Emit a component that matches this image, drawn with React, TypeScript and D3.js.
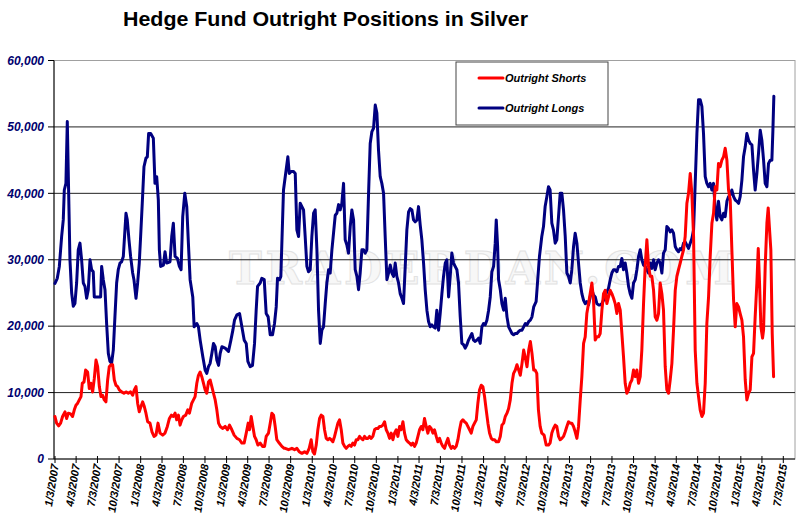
import { useEffect } from 'react';
import * as d3 from 'd3';

// decimal year, contracts
const outrightLongs: [number, number][] = [
  [2007.005, 26450], [2007.032, 27200], [2007.056, 29000], [2007.083, 33500], [2007.102, 36000],
  [2007.114, 40500], [2007.133, 41500], [2007.149, 50800], [2007.165, 40000], [2007.180, 30000],
  [2007.200, 25000], [2007.219, 23000], [2007.238, 23400], [2007.258, 26500], [2007.277, 31500],
  [2007.297, 32500], [2007.316, 30000], [2007.336, 26500], [2007.355, 26000], [2007.375, 24200],
  [2007.394, 25500], [2007.414, 30000], [2007.433, 28500], [2007.452, 28200], [2007.464, 24400],
  [2007.511, 24400], [2007.538, 24400], [2007.550, 29000], [2007.569, 27000], [2007.589, 25500],
  [2007.608, 20400], [2007.628, 15900], [2007.647, 14700], [2007.666, 14400], [2007.686, 16400],
  [2007.705, 21400], [2007.725, 26500], [2007.744, 28500], [2007.764, 29500], [2007.783, 29700],
  [2007.803, 30500], [2007.822, 34500], [2007.834, 37000], [2007.849, 36000], [2007.869, 33000],
  [2007.888, 30500], [2007.912, 28000], [2007.927, 27000], [2007.951, 24200], [2007.970, 26500],
  [2007.989, 29500], [2008.005, 33500], [2008.024, 38500], [2008.044, 44000], [2008.067, 45300],
  [2008.083, 45500], [2008.098, 49000], [2008.122, 49000], [2008.153, 48300], [2008.172, 41500],
  [2008.192, 42500], [2008.211, 39000], [2008.223, 31500], [2008.238, 29000], [2008.270, 29200],
  [2008.289, 31200], [2008.308, 29500], [2008.347, 29700], [2008.367, 33500], [2008.386, 35500],
  [2008.406, 30500], [2008.433, 30200], [2008.456, 29000], [2008.476, 28500], [2008.495, 36500],
  [2008.519, 40000], [2008.542, 38000], [2008.561, 32500], [2008.581, 27000], [2008.612, 24400],
  [2008.628, 19900], [2008.659, 20400], [2008.678, 19900], [2008.698, 17900], [2008.729, 15400],
  [2008.756, 13400], [2008.775, 12900], [2008.795, 13900], [2008.814, 14400], [2008.834, 15900],
  [2008.853, 17400], [2008.873, 16900], [2008.892, 14900], [2008.912, 14100], [2008.931, 15900],
  [2008.951, 16900], [2008.989, 16700], [2009.028, 16200], [2009.056, 17900], [2009.079, 19400],
  [2009.098, 20900], [2009.126, 21700], [2009.157, 21900], [2009.184, 19900], [2009.211, 17900],
  [2009.235, 17400], [2009.254, 14700], [2009.281, 13900], [2009.308, 14100], [2009.332, 17400],
  [2009.351, 22400], [2009.367, 26000], [2009.398, 26500], [2009.417, 27200], [2009.445, 27000],
  [2009.468, 21900], [2009.491, 21400], [2009.515, 18700], [2009.542, 18700], [2009.565, 20400],
  [2009.585, 22900], [2009.600, 27200], [2009.624, 27000], [2009.639, 27500], [2009.670, 40500],
  [2009.721, 45500], [2009.737, 43000], [2009.760, 43300], [2009.787, 43300], [2009.807, 43000],
  [2009.826, 34500], [2009.846, 33500], [2009.865, 38500], [2009.885, 38000], [2009.904, 37500],
  [2009.923, 33500], [2009.943, 29000], [2009.962, 28200], [2009.982, 28500], [2010.001, 33500],
  [2010.021, 37000], [2010.040, 37500], [2010.060, 31500], [2010.079, 22400], [2010.099, 17400],
  [2010.118, 19400], [2010.137, 19900], [2010.157, 23400], [2010.176, 26500], [2010.196, 28500],
  [2010.215, 28000], [2010.235, 31500], [2010.254, 34000], [2010.274, 36700], [2010.293, 37000],
  [2010.313, 38300], [2010.332, 37500], [2010.351, 38500], [2010.371, 41500], [2010.390, 33000],
  [2010.410, 32200], [2010.429, 31000], [2010.449, 35000], [2010.468, 37500], [2010.488, 36000],
  [2010.507, 28500], [2010.527, 27500], [2010.546, 25500], [2010.565, 28000], [2010.585, 31500],
  [2010.604, 31500], [2010.624, 31000], [2010.643, 31500], [2010.663, 40000], [2010.682, 47500],
  [2010.702, 49300], [2010.721, 49800], [2010.741, 53300], [2010.760, 52100], [2010.779, 46500],
  [2010.799, 42500], [2010.818, 41500], [2010.838, 40000], [2010.857, 33500], [2010.877, 27000],
  [2010.896, 28000], [2010.916, 29200], [2010.935, 28000], [2010.955, 27500], [2010.974, 29500],
  [2010.993, 27500], [2011.013, 26500], [2011.032, 24900], [2011.052, 24200], [2011.071, 23400],
  [2011.091, 29000], [2011.110, 34500], [2011.130, 37200], [2011.149, 37700], [2011.169, 37500],
  [2011.188, 36000], [2011.207, 35700], [2011.227, 36000], [2011.246, 38000], [2011.266, 35200],
  [2011.285, 33000], [2011.305, 29500], [2011.324, 25500], [2011.344, 22400], [2011.363, 20700],
  [2011.383, 19900], [2011.402, 20200], [2011.421, 19900], [2011.441, 19700], [2011.460, 22400],
  [2011.480, 19400], [2011.499, 21900], [2011.519, 24900], [2011.538, 27500], [2011.558, 29500],
  [2011.577, 30000], [2011.597, 24400], [2011.616, 27500], [2011.635, 31000], [2011.655, 29500],
  [2011.674, 29000], [2011.694, 28500], [2011.713, 26500], [2011.733, 21400], [2011.752, 17400],
  [2011.772, 17200], [2011.791, 16700], [2011.811, 17200], [2011.830, 17900], [2011.849, 18400],
  [2011.869, 18900], [2011.888, 17900], [2011.908, 17700], [2011.927, 17900], [2011.947, 18200],
  [2011.966, 17400], [2011.986, 19900], [2012.005, 20400], [2012.025, 20200], [2012.044, 20900],
  [2012.064, 22400], [2012.083, 24400], [2012.102, 28200], [2012.122, 29000], [2012.141, 32500],
  [2012.153, 36000], [2012.169, 32000], [2012.180, 27000], [2012.200, 25500], [2012.219, 23400],
  [2012.239, 22400], [2012.258, 24200], [2012.278, 21400], [2012.297, 19900], [2012.316, 19400],
  [2012.336, 18900], [2012.355, 18700], [2012.375, 18900], [2012.394, 18900], [2012.414, 19200],
  [2012.433, 19400], [2012.453, 19400], [2012.472, 19900], [2012.492, 20400], [2012.511, 20200],
  [2012.531, 20700], [2012.550, 20900], [2012.569, 21400], [2012.589, 22900], [2012.617, 23700],
  [2012.633, 26500], [2012.656, 30500], [2012.683, 33500], [2012.703, 35000], [2012.722, 38000],
  [2012.742, 39500], [2012.761, 41000], [2012.780, 40500], [2012.800, 35500], [2012.819, 34500],
  [2012.839, 32500], [2012.858, 33000], [2012.878, 36500], [2012.897, 40000], [2012.917, 40000],
  [2012.936, 37500], [2012.956, 33500], [2012.975, 28000], [2012.994, 27500], [2013.014, 26500],
  [2013.033, 28500], [2013.053, 32000], [2013.072, 34000], [2013.092, 32500], [2013.111, 29500],
  [2013.131, 26500], [2013.150, 24900], [2013.170, 23900], [2013.189, 23400], [2013.208, 23700],
  [2013.228, 23200], [2013.247, 24400], [2013.267, 25500], [2013.286, 24700], [2013.306, 24400],
  [2013.325, 23400], [2013.345, 23200], [2013.364, 23200], [2013.384, 23400], [2013.403, 23900],
  [2013.422, 24400], [2013.442, 25200], [2013.461, 25700], [2013.481, 27000], [2013.500, 28000],
  [2013.520, 28500], [2013.539, 28500], [2013.559, 28200], [2013.578, 29000], [2013.598, 29000],
  [2013.617, 30200], [2013.636, 28500], [2013.656, 29500], [2013.675, 28000], [2013.695, 26000],
  [2013.714, 24900], [2013.734, 24200], [2013.753, 26500], [2013.773, 27000], [2013.792, 28500],
  [2013.812, 30500], [2013.831, 31500], [2013.850, 30000], [2013.870, 29200], [2013.889, 29000],
  [2013.909, 28500], [2013.928, 28000], [2013.948, 29500], [2013.967, 28700], [2013.987, 30000],
  [2014.006, 28500], [2014.026, 29500], [2014.045, 30000], [2014.064, 29500], [2014.084, 28000],
  [2014.103, 31000], [2014.123, 31500], [2014.142, 35000], [2014.162, 34700], [2014.181, 34200],
  [2014.201, 34500], [2014.220, 34000], [2014.240, 32000], [2014.259, 31500], [2014.278, 31200],
  [2014.298, 31700], [2014.317, 31500], [2014.337, 32500], [2014.356, 32700], [2014.376, 32200],
  [2014.395, 31700], [2014.415, 32500], [2014.434, 33200], [2014.454, 34500], [2014.473, 41500],
  [2014.493, 49000], [2014.512, 54100], [2014.531, 54100], [2014.551, 53100], [2014.570, 49000],
  [2014.590, 42500], [2014.609, 41500], [2014.629, 41000], [2014.648, 41500], [2014.668, 40500],
  [2014.687, 41500], [2014.707, 37500], [2014.726, 36000], [2014.745, 38800], [2014.765, 36500],
  [2014.784, 36000], [2014.804, 37000], [2014.823, 36500], [2014.843, 38800], [2014.862, 39500],
  [2014.882, 39800], [2014.901, 40500], [2014.921, 39500], [2014.940, 39000], [2014.959, 38800],
  [2014.979, 38500], [2014.998, 39500], [2015.018, 42000], [2015.037, 45500], [2015.057, 47000],
  [2015.076, 49000], [2015.096, 48000], [2015.115, 47500], [2015.135, 47300], [2015.154, 43500],
  [2015.173, 40500], [2015.193, 43000], [2015.212, 46000], [2015.232, 49500], [2015.251, 48000],
  [2015.271, 45000], [2015.290, 41500], [2015.310, 41000], [2015.329, 44500], [2015.349, 45000],
  [2015.368, 45000], [2015.380, 49500], [2015.391, 54600],
];

const outrightShorts: [number, number][] = [
  [2007.005, 6400], [2007.024, 5400], [2007.048, 5000], [2007.071, 5400], [2007.094, 6400],
  [2007.122, 7100], [2007.141, 6100], [2007.161, 6900], [2007.188, 6800], [2007.211, 6400],
  [2007.231, 7400], [2007.250, 8100], [2007.270, 8400], [2007.289, 8900], [2007.309, 9400],
  [2007.324, 11400], [2007.344, 11600], [2007.363, 13400], [2007.386, 13100], [2007.406, 10600],
  [2007.425, 11400], [2007.445, 10100], [2007.464, 12100], [2007.484, 14900], [2007.503, 13900],
  [2007.523, 10900], [2007.542, 9400], [2007.561, 9600], [2007.581, 8900], [2007.600, 8600],
  [2007.620, 11900], [2007.639, 13900], [2007.659, 14200], [2007.678, 14200], [2007.698, 11900],
  [2007.717, 11100], [2007.737, 10900], [2007.756, 10400], [2007.783, 10100], [2007.810, 9900],
  [2007.834, 10100], [2007.861, 9900], [2007.888, 10100], [2007.912, 9600], [2007.931, 10400],
  [2007.951, 10900], [2007.970, 8400], [2007.989, 7100], [2008.009, 7900], [2008.028, 8600],
  [2008.048, 7900], [2008.067, 6900], [2008.087, 5600], [2008.114, 5400], [2008.137, 4100],
  [2008.161, 3400], [2008.184, 3600], [2008.207, 5400], [2008.231, 3900], [2008.262, 3600],
  [2008.289, 3900], [2008.316, 4900], [2008.340, 6100], [2008.363, 6600], [2008.386, 6400],
  [2008.406, 6900], [2008.425, 5900], [2008.445, 6600], [2008.464, 5100], [2008.484, 5900],
  [2008.503, 6400], [2008.530, 6600], [2008.554, 7400], [2008.573, 6900], [2008.600, 8400],
  [2008.620, 8900], [2008.639, 9400], [2008.659, 11400], [2008.678, 12600], [2008.698, 13100],
  [2008.717, 12400], [2008.737, 11400], [2008.756, 10400], [2008.775, 9900], [2008.795, 11600],
  [2008.814, 11900], [2008.834, 10900], [2008.853, 9900], [2008.873, 8900], [2008.892, 7400],
  [2008.912, 5400], [2008.931, 4900], [2008.962, 4600], [2008.989, 4900], [2009.017, 4400],
  [2009.040, 5100], [2009.067, 4400], [2009.094, 3600], [2009.126, 3100], [2009.157, 2900],
  [2009.184, 2400], [2009.211, 2400], [2009.235, 3900], [2009.258, 5400], [2009.273, 4400],
  [2009.293, 6400], [2009.312, 4900], [2009.332, 3400], [2009.351, 2900], [2009.371, 2100],
  [2009.398, 2400], [2009.425, 1900], [2009.449, 1900], [2009.468, 3400], [2009.495, 3900],
  [2009.515, 5400], [2009.534, 6900], [2009.554, 6600], [2009.573, 4900], [2009.592, 2900],
  [2009.620, 2400], [2009.651, 1900], [2009.678, 1600], [2009.690, 1600], [2009.729, 1400],
  [2009.768, 1600], [2009.799, 1400], [2009.826, 1600], [2009.853, 1100], [2009.885, 850],
  [2009.916, 1100], [2009.943, 850], [2009.970, 1600], [2009.993, 2900], [2010.013, 1100],
  [2010.032, 750], [2010.052, 2100], [2010.071, 4400], [2010.091, 6100], [2010.110, 6600],
  [2010.130, 6400], [2010.149, 4400], [2010.169, 3100], [2010.188, 2900], [2010.208, 3100],
  [2010.227, 2900], [2010.246, 2600], [2010.266, 3400], [2010.285, 4400], [2010.305, 5400],
  [2010.324, 5900], [2010.344, 4400], [2010.363, 2400], [2010.383, 1900], [2010.402, 1600],
  [2010.422, 1900], [2010.441, 2100], [2010.460, 1900], [2010.480, 2400], [2010.499, 2100],
  [2010.519, 2900], [2010.538, 2900], [2010.558, 3400], [2010.577, 3100], [2010.597, 2900],
  [2010.616, 3400], [2010.636, 3100], [2010.655, 3100], [2010.674, 3400], [2010.694, 3100],
  [2010.713, 3400], [2010.733, 4400], [2010.752, 4600], [2010.772, 4600], [2010.791, 4900],
  [2010.811, 4900], [2010.830, 5100], [2010.850, 5600], [2010.869, 4400], [2010.888, 3900],
  [2010.908, 3100], [2010.927, 3900], [2010.947, 2900], [2010.966, 3900], [2010.986, 4400],
  [2011.005, 3400], [2011.025, 4900], [2011.044, 4400], [2011.064, 5600], [2011.083, 3900],
  [2011.102, 2900], [2011.122, 2600], [2011.141, 2400], [2011.161, 2100], [2011.180, 2400],
  [2011.200, 1900], [2011.219, 2400], [2011.239, 3400], [2011.258, 4400], [2011.278, 4900],
  [2011.297, 4400], [2011.316, 6100], [2011.336, 4900], [2011.355, 3900], [2011.375, 4900],
  [2011.394, 4600], [2011.414, 3900], [2011.433, 4400], [2011.453, 3400], [2011.472, 2600],
  [2011.492, 3100], [2011.511, 2400], [2011.530, 1900], [2011.550, 1600], [2011.569, 2400],
  [2011.589, 3100], [2011.608, 2100], [2011.628, 1600], [2011.647, 1900], [2011.667, 1600],
  [2011.686, 1900], [2011.706, 2900], [2011.725, 4400], [2011.744, 5600], [2011.764, 5900],
  [2011.783, 5600], [2011.803, 5400], [2011.822, 4900], [2011.842, 4400], [2011.861, 3900],
  [2011.881, 4900], [2011.900, 5400], [2011.920, 5900], [2011.939, 8400], [2011.958, 10400],
  [2011.978, 11100], [2011.997, 10900], [2012.017, 9400], [2012.036, 7400], [2012.056, 5400],
  [2012.075, 3900], [2012.095, 3100], [2012.114, 2900], [2012.134, 2900], [2012.153, 2600],
  [2012.180, 2600], [2012.200, 3400], [2012.219, 5100], [2012.239, 5400], [2012.258, 6400],
  [2012.278, 6900], [2012.297, 7600], [2012.316, 8900], [2012.336, 11400], [2012.355, 12900],
  [2012.375, 13400], [2012.394, 14200], [2012.414, 13400], [2012.433, 12600], [2012.453, 14400],
  [2012.472, 16400], [2012.492, 15200], [2012.511, 13900], [2012.531, 16400], [2012.550, 17700],
  [2012.569, 15900], [2012.589, 13400], [2012.605, 13400], [2012.625, 12900], [2012.644, 7400],
  [2012.664, 4900], [2012.683, 3900], [2012.710, 3600], [2012.734, 2100], [2012.761, 2100],
  [2012.780, 2400], [2012.800, 3900], [2012.819, 4600], [2012.839, 5100], [2012.858, 4900],
  [2012.878, 3400], [2012.897, 2900], [2012.917, 3100], [2012.936, 3400], [2012.956, 4100],
  [2012.975, 4900], [2012.994, 5600], [2013.014, 5400], [2013.033, 5400], [2013.053, 4900],
  [2013.072, 4100], [2013.092, 3100], [2013.111, 4900], [2013.131, 8900], [2013.150, 12400],
  [2013.170, 17400], [2013.189, 18400], [2013.208, 21900], [2013.228, 23400], [2013.247, 24900],
  [2013.267, 26500], [2013.286, 23900], [2013.306, 17900], [2013.325, 18400], [2013.345, 18400],
  [2013.364, 18900], [2013.384, 22400], [2013.403, 24900], [2013.422, 25400], [2013.442, 23400],
  [2013.461, 24400], [2013.481, 25400], [2013.500, 24900], [2013.520, 24200], [2013.539, 23400],
  [2013.559, 21900], [2013.578, 23400], [2013.598, 22400], [2013.617, 18900], [2013.636, 15400],
  [2013.656, 11400], [2013.675, 9900], [2013.695, 10400], [2013.714, 11400], [2013.734, 11900],
  [2013.753, 13400], [2013.773, 12400], [2013.792, 13400], [2013.812, 11400], [2013.831, 12400],
  [2013.850, 16400], [2013.870, 23400], [2013.889, 29000], [2013.909, 33000], [2013.928, 29000],
  [2013.948, 27500], [2013.967, 27500], [2013.987, 25400], [2014.006, 21400], [2014.026, 20900],
  [2014.045, 21900], [2014.064, 26500], [2014.084, 24900], [2014.103, 22400], [2014.123, 13900],
  [2014.142, 10400], [2014.162, 9900], [2014.181, 11900], [2014.201, 14400], [2014.220, 19400],
  [2014.240, 25400], [2014.259, 27500], [2014.278, 28500], [2014.298, 29500], [2014.317, 30500],
  [2014.337, 31500], [2014.356, 33500], [2014.376, 38500], [2014.395, 40000], [2014.415, 43000],
  [2014.434, 40000], [2014.454, 33500], [2014.473, 16400], [2014.493, 11400], [2014.512, 9400],
  [2014.531, 7400], [2014.551, 6400], [2014.570, 6900], [2014.590, 11400], [2014.609, 20400],
  [2014.629, 24400], [2014.648, 30500], [2014.668, 35500], [2014.687, 37000], [2014.707, 41000],
  [2014.726, 40500], [2014.745, 44500], [2014.765, 44000], [2014.784, 45000], [2014.804, 45500],
  [2014.823, 46800], [2014.843, 45000], [2014.862, 40500], [2014.882, 39000], [2014.901, 31500],
  [2014.921, 23900], [2014.940, 19900], [2014.959, 23400], [2014.979, 22900], [2014.998, 21900],
  [2015.018, 20900], [2015.037, 18400], [2015.057, 11900], [2015.076, 8900], [2015.096, 9900],
  [2015.115, 10400], [2015.135, 15400], [2015.154, 15900], [2015.173, 21400], [2015.193, 26500],
  [2015.209, 31700], [2015.224, 26500], [2015.240, 19900], [2015.259, 18200], [2015.271, 19400],
  [2015.290, 29000], [2015.310, 35500], [2015.325, 37800], [2015.341, 34500], [2015.356, 31500],
  [2015.372, 18900], [2015.388, 12400],
];

const yTicks = [0, 10000, 20000, 30000, 40000, 50000, 60000];

const xTickLabels = [
  '1/3/2007', '4/3/2007', '7/3/2007', '10/3/2007', '1/3/2008', '4/3/2008', '7/3/2008', '10/3/2008',
  '1/3/2009', '4/3/2009', '7/3/2009', '10/3/2009', '1/3/2010', '4/3/2010', '7/3/2010', '10/3/2010',
  '1/3/2011', '4/3/2011', '7/3/2011', '10/3/2011', '1/3/2012', '4/3/2012', '7/3/2012', '10/3/2012',
  '1/3/2013', '4/3/2013', '7/3/2013', '10/3/2013', '1/3/2014', '4/3/2014', '7/3/2014', '10/3/2014',
  '1/3/2015', '4/3/2015', '7/3/2015',
];

const legendItems = [
  { label: 'Outright Shorts', color: '#ff0000' },
  { label: 'Outright Longs', color: '#000080' },
];

const W = 800;
const H = 515;
const plot = { left: 54, right: 795, top: 60.5, bottom: 459 };
const FONT = 'Arial, "Liberation Sans", sans-serif';

const parseLabel = d3.timeParse('%m/%d/%Y');

const fromYear = (t: number) => {
  const y = Math.floor(t);
  const a = new Date(y, 0, 1).getTime();
  const b = new Date(y + 1, 0, 1).getTime();
  return new Date(a + (t - y) * (b - a));
};

const x = d3.scaleTime()
  .domain([new Date(2007, 0, 3), new Date(2015, 6, 3)])
  .range([55, 783.3]);

const y = d3.scaleLinear()
  .domain([0, 60000])
  .range([plot.bottom, plot.top]);

const line = d3.line<[number, number]>()
  .x(d => x(fromYear(d[0])))
  .y(d => y(d[1]));

const fmt = d3.format(',');

export default function App() {
  useEffect(() => {
    document.body.style.margin = '0';
  }, []);

  return (
    <svg width={W} height={H} style={{ display: 'block', background: '#fff' }} fontFamily={FONT}>
      <text x={325.5} y={26} textAnchor="middle" fontSize={20.5} fontWeight="bold" fill="#000"
        textLength={405} lengthAdjust="spacingAndGlyphs">
        Hedge Fund Outright Positions in Silver
      </text>

      {/* watermark */}
      <text x={229} y={284} textLength={505} lengthAdjust="spacing" fontSize={44}
        fontFamily='"DejaVu Serif", serif' fontWeight="bold"
        fill="#f7f7f7" stroke="#e2e2e2" strokeWidth={1}>
        TRADERDAN.COM
      </text>

      {/* plot border */}
      <rect x={plot.left} y={plot.top} width={plot.right - plot.left} height={plot.bottom - plot.top}
        fill="none" stroke="#a0a0a0" strokeWidth={1} />

      {/* gridlines + y labels */}
      {yTicks.map(v => (
        <g key={v}>
          {v > 0 && v < 60000 && (
            <line x1={plot.left} x2={plot.right} y1={y(v)} y2={y(v)} stroke="#222" strokeWidth={1} />
          )}
          <line x1={48} x2={plot.left} y1={y(v)} y2={y(v)} stroke="#000" strokeWidth={1} />
          <text x={44} y={y(v)} dy="0.35em" textAnchor="end" fontSize={12}
            fontWeight="bold" fontStyle="italic" fill="#00006e">
            {fmt(v)}
          </text>
        </g>
      ))}

      {/* axes */}
      <line x1={plot.left} x2={plot.left} y1={plot.top} y2={plot.bottom} stroke="#000" strokeWidth={1} />
      <line x1={plot.left} x2={plot.right} y1={plot.bottom} y2={plot.bottom} stroke="#000" strokeWidth={1.2} />

      {xTickLabels.map(lbl => {
        const px = x(parseLabel(lbl) as Date);
        return (
          <g key={lbl}>
            <line x1={px} x2={px} y1={plot.bottom - 3} y2={plot.bottom + 4} stroke="#000" strokeWidth={1} />
            <text transform={`translate(${px},${plot.bottom + 5}) rotate(-81)`} dy="0.35em"
              textAnchor="end" fontSize={11} fontWeight="bold" fontStyle="italic" fill="#000">
              {lbl}
            </text>
          </g>
        );
      })}

      {/* series */}
      <path d={line(outrightLongs) || ''} fill="none" stroke="#000080" strokeWidth={3}
        strokeLinejoin="round" strokeLinecap="round" />
      <path d={line(outrightShorts) || ''} fill="none" stroke="#ff0000" strokeWidth={3}
        strokeLinejoin="round" strokeLinecap="round" />

      {/* legend */}
      <rect x={456} y={62} width={152} height={63} fill="#fff" stroke="#444" strokeWidth={1} />
      {legendItems.map((item, i) => (
        <g key={item.label} transform={`translate(0,${78 + i * 30})`}>
          <line x1={479} x2={503} y1={0} y2={0} stroke={item.color} strokeWidth={3} strokeLinecap="round" />
          <text x={505} y={0} dy="0.35em" fontSize={11} fontWeight="bold" fontStyle="italic" fill="#000">
            {item.label}
          </text>
        </g>
      ))}
    </svg>
  );
}
